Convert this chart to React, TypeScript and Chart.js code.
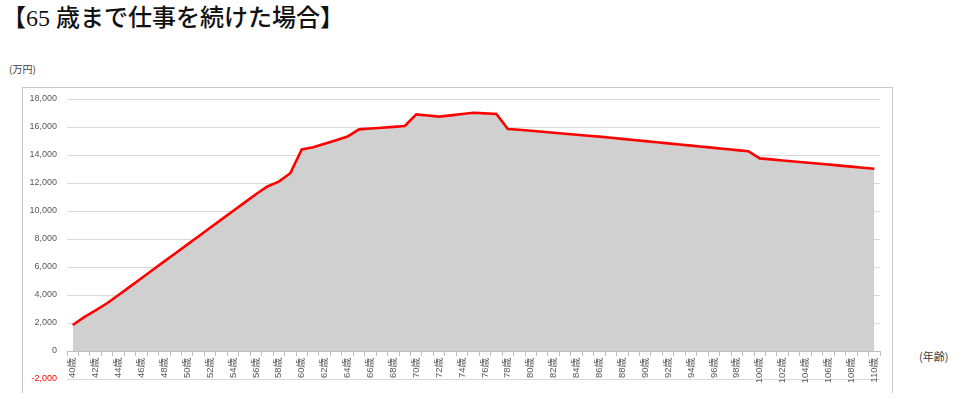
import React, { useEffect, useRef } from "react";
import { Chart, registerables } from "chart.js";

Chart.register(...registerables);

const ages: string[] = [
  "40歳", "41歳", "42歳", "43歳", "44歳", "45歳", "46歳", "47歳", "48歳", "49歳",
  "50歳", "51歳", "52歳", "53歳", "54歳", "55歳", "56歳", "57歳", "58歳", "59歳",
  "60歳", "61歳", "62歳", "63歳", "64歳", "65歳", "66歳", "67歳", "68歳", "69歳",
  "70歳", "71歳", "72歳", "73歳", "74歳", "75歳", "76歳", "77歳", "78歳", "79歳",
  "80歳", "81歳", "82歳", "83歳", "84歳", "85歳", "86歳", "87歳", "88歳", "89歳",
  "90歳", "91歳", "92歳", "93歳", "94歳", "95歳", "96歳", "97歳", "98歳", "99歳",
  "100歳", "101歳", "102歳", "103歳", "104歳", "105歳", "106歳", "107歳", "108歳", "109歳",
  "110歳",
];

// 金融資産残高（万円）
const balance: number[] = [
  1860, 2420, 2900, 3410, 4000, 4600, 5200, 5800, 6400, 7000,
  7600, 8200, 8800, 9400, 10000, 10600, 11200, 11750, 12100, 12700,
  14400, 14550, 14800, 15060, 15320, 15830, 15890, 15950, 16010, 16070,
  16900, 16820, 16740, 16830, 16930, 17020, 16975, 16930, 15860, 15800,
  15730, 15660, 15590, 15520, 15450, 15380, 15310, 15230, 15150, 15070,
  14990, 14910, 14830, 14750, 14670, 14590, 14510, 14430, 14350, 14270,
  13760, 13690, 13610, 13540, 13460, 13390, 13320, 13240, 13170, 13090,
  13020,
];

const yMin = -2000;
const yMax = 18000;
const yStep = 2000;

const titleText = "【65 歳まで仕事を続けた場合】";
const yUnit = "(万円)";
const xUnit = "(年齢)";

export default function App() {
  const canvasRef = useRef<HTMLCanvasElement | null>(null);

  useEffect(() => {
    const canvas = canvasRef.current;
    if (!canvas) return;
    const chart = new Chart(canvas, {
      type: "line",
      data: {
        labels: ages,
        datasets: [
          {
            data: balance,
            borderColor: "#ff0000",
            borderWidth: 2.6,
            backgroundColor: "#d0d0d0",
            fill: "origin",
            pointRadius: 0,
            tension: 0,
          },
        ],
      },
      options: {
        animation: false,
        responsive: false,
        maintainAspectRatio: false,
        layout: { padding: { left: 0, top: 99, right: 80, bottom: 19 } },
        plugins: {
          legend: { display: false },
          tooltip: { enabled: false },
          title: { display: false },
        },
        scales: {
          x: {
            type: "category",
            axis: "x",
            position: { y: 0 } as any,
            offset: true,
            grid: {
              display: true,
              drawOnChartArea: false,
              drawTicks: true,
              tickLength: 4,
              color: "#bfbfbf",
              offset: true,
            },
            border: { display: true, color: "#bfbfbf", width: 1 },
            ticks: {
              autoSkip: false,
              minRotation: 90,
              maxRotation: 90,
              padding: 3,
              color: "#595959",
              font: { size: 9.5, family: "'Liberation Sans', 'Noto Sans CJK JP', sans-serif" },
              callback: function (_v: any, index: number) {
                return index % 2 === 0 ? ages[index] : "";
              },
            },
          },
          y: {
            min: yMin,
            max: yMax,
            afterFit: (s: any) => {
              s.width = 67;
            },
            grid: {
              color: "#d9d9d9",
              lineWidth: 1,
              drawTicks: false,
            },
            border: { display: false },
            ticks: {
              stepSize: yStep,
              padding: 10,
              color: (ctx: any) => (ctx.tick && ctx.tick.value < 0 ? "#ff0000" : "#595959"),
              font: { size: 9, family: "'Liberation Sans', sans-serif" },
              callback: (v: any) => Number(v).toLocaleString("en-US"),
            },
          },
        },
      },
    });
    return () => chart.destroy();
  }, []);

  return (
    <div style={{ position: "fixed", left: 0, top: 0, width: 960, height: 398, background: "#fff", overflow: "hidden" }}>
      <div
        style={{
          position: "absolute",
          left: 2,
          top: 3,
          fontSize: 24,
          lineHeight: "30px",
          fontWeight: 500,
          fontFamily: "'Liberation Serif', 'Noto Sans CJK JP', serif",
          color: "#111",
          whiteSpace: "nowrap",
        }}
      >
        {titleText}
      </div>
      <div
        style={{
          position: "absolute",
          left: 22,
          top: 87,
          width: 869,
          height: 305,
          borderLeft: "1px solid #c8c8c8",
          borderTop: "1px solid #c8c8c8",
          borderRight: "1px solid #c8c8c8",
        }}
      />
      <div
        style={{
          position: "absolute",
          left: 9,
          top: 62,
          fontSize: 10,
          lineHeight: "14px",
          fontFamily: "'Noto Sans CJK JP', sans-serif",
          color: "#404040",
          whiteSpace: "nowrap",
        }}
      >
        {yUnit}
      </div>
      <div
        style={{
          position: "absolute",
          left: 919,
          top: 348,
          fontSize: 11,
          lineHeight: "16px",
          fontFamily: "'Noto Sans CJK JP', sans-serif",
          color: "#404040",
          whiteSpace: "nowrap",
        }}
      >
        {xUnit}
      </div>
      <canvas
        ref={canvasRef}
        width={960}
        height={398}
        style={{ position: "absolute", left: 0, top: 0, width: 960, height: 398 }}
      />
    </div>
  );
}
